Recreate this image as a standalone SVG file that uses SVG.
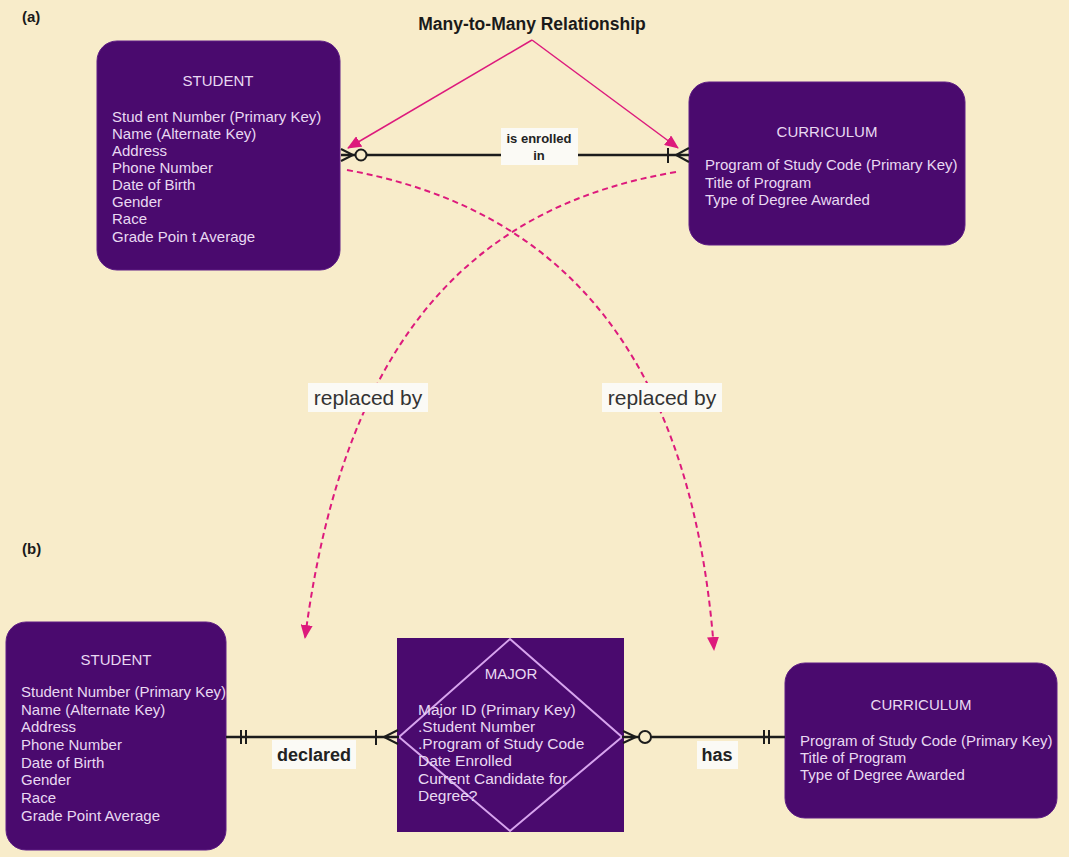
<svg xmlns="http://www.w3.org/2000/svg" width="1069" height="857" viewBox="0 0 1069 857">
<defs>
<style>
.bg{fill:#f8ecca}
.ent{fill:#4a0a6e;stroke:#5e1d85;stroke-width:1}
.title{font-family:"Liberation Sans",Arial,sans-serif;font-size:15px;fill:#e9d9f2;text-anchor:middle}
.attr{font-family:"Liberation Sans",Arial,sans-serif;font-size:15px;fill:#e9d9f2}
.mattr{font-family:"Liberation Sans",Arial,sans-serif;font-size:15.5px;fill:#e9d9f2}
.rel{stroke:#1c1c1c;stroke-width:2.5;fill:none}
.mark{stroke:#1c1c1c;stroke-width:2;fill:none}
.circ{stroke:#1c1c1c;stroke-width:2;fill:#f8ecca}
.lblbox{fill:#fbfaf5}
.lbl{font-family:"Liberation Sans",Arial,sans-serif;font-weight:bold;fill:#222;text-anchor:middle}
.rep{font-family:"Liberation Sans",Arial,sans-serif;font-size:21px;fill:#333;text-anchor:middle}
.pink{stroke:#dd1a7c;stroke-width:1.5;fill:none}
.dash{stroke:#dd1a7c;stroke-width:2;fill:none;stroke-dasharray:6 4}
.hdr{font-family:"Liberation Sans",Arial,sans-serif;font-weight:bold;fill:#1a1a1a}
</style>
<marker id="ah" viewBox="0 0 14 12" refX="13" refY="6" markerWidth="14" markerHeight="12" markerUnits="userSpaceOnUse" orient="auto">
<path d="M0,0 L14,6 L0,12 z" fill="#dd1a7c"/>
</marker>
<marker id="ah2" viewBox="0 0 14 12" refX="13" refY="6" markerWidth="14" markerHeight="12" markerUnits="userSpaceOnUse" orient="auto">
<path d="M0,0 L14,6 L0,12 z" fill="#dd1a7c"/>
</marker>
</defs>
<rect class="bg" x="0" y="0" width="1069" height="857"/>

<text class="hdr" x="22" y="22" font-size="15">(a)</text>
<text class="hdr" x="22" y="554" font-size="15">(b)</text>
<text class="hdr" x="532" y="30" font-size="17.5" text-anchor="middle">Many-to-Many Relationship</text>

<g id="student-a">
<rect class="ent" x="97" y="41" width="243" height="229" rx="20"/>
<text class="title" x="218" y="86">STUDENT</text>
<text class="attr" x="112" y="122">Stud ent Number (Primary Key)</text>
<text class="attr" x="112" y="139">Name (Alternate Key)</text>
<text class="attr" x="112" y="156">Address</text>
<text class="attr" x="112" y="173">Phone Number</text>
<text class="attr" x="112" y="190">Date of Birth</text>
<text class="attr" x="112" y="207">Gender</text>
<text class="attr" x="112" y="224">Race</text>
<text class="attr" x="112" y="242">Grade Poin t Average</text>
</g>

<g id="curriculum-a">
<rect class="ent" x="689" y="82" width="276" height="163" rx="20"/>
<text class="title" x="827" y="137">CURRICULUM</text>
<text class="attr" x="705" y="170">Program of Study Code (Primary Key)</text>
<text class="attr" x="705" y="188">Title of Program</text>
<text class="attr" x="705" y="205">Type of Degree Awarded</text>
</g>

<g id="student-b">
<rect class="ent" x="6" y="622" width="220" height="228" rx="20"/>
<text class="title" x="116" y="665">STUDENT</text>
<text class="attr" x="21" y="697">Student Number (Primary Key)</text>
<text class="attr" x="21" y="715">Name (Alternate Key)</text>
<text class="attr" x="21" y="732">Address</text>
<text class="attr" x="21" y="750">Phone Number</text>
<text class="attr" x="21" y="768">Date of Birth</text>
<text class="attr" x="21" y="785">Gender</text>
<text class="attr" x="21" y="803">Race</text>
<text class="attr" x="21" y="821">Grade Point Average</text>
</g>

<g id="major">
<rect x="397" y="638" width="227" height="194" fill="#4a0a6e"/>
<path d="M510,639 L622,737 L510,831 L399,737 Z" fill="none" stroke="#d7a4ee" stroke-width="2"/>
<text class="title" x="511" y="679">MAJOR</text>
<text class="mattr" x="418" y="715">Major ID (Primary Key)</text>
<text class="mattr" x="418" y="732">.Student Number</text>
<text class="mattr" x="418" y="749">.Program of Study Code</text>
<text class="mattr" x="418" y="766">Date Enrolled</text>
<text class="mattr" x="418" y="784">Current Candidate for</text>
<text class="mattr" x="418" y="801">Degree?</text>
</g>

<g id="curriculum-b">
<rect class="ent" x="785" y="663" width="272" height="155" rx="20"/>
<text class="title" x="921" y="710">CURRICULUM</text>
<text class="attr" x="800" y="746">Program of Study Code (Primary Key)</text>
<text class="attr" x="800" y="763">Title of Program</text>
<text class="attr" x="800" y="780">Type of Degree Awarded</text>
</g>

<g id="connectors">
<!-- top: is enrolled in -->
<line class="rel" x1="341" y1="155" x2="689" y2="155"/>
<path class="mark" d="M341,149 L353,155 L341,161"/>
<circle class="circ" cx="361" cy="155" r="5.5"/>
<line class="mark" x1="668" y1="148" x2="668" y2="163"/>
<path class="mark" d="M689,148 L676,155 L689,162"/>
<rect class="lblbox" x="501" y="128" width="77" height="37"/>
<text class="lbl" x="539" y="143" font-size="13">is enrolled</text>
<text class="lbl" x="539" y="160" font-size="13">in</text>

<!-- bottom: declared -->
<line class="rel" x1="226" y1="737" x2="399" y2="737"/>
<line class="mark" x1="241" y1="730" x2="241" y2="744"/>
<line class="mark" x1="246" y1="730" x2="246" y2="744"/>
<line class="mark" x1="376" y1="730" x2="376" y2="745"/>
<path class="mark" d="M398,730 L384,737 L398,744"/>
<rect class="lblbox" x="272" y="740" width="84" height="29"/>
<text class="lbl" x="314" y="761" font-size="18">declared</text>

<!-- bottom: has -->
<line class="rel" x1="622" y1="737" x2="785" y2="737"/>
<path class="mark" d="M623,731 L636,737 L623,743"/>
<circle class="circ" cx="645" cy="737" r="6"/>
<line class="mark" x1="764" y1="730" x2="764" y2="744"/>
<line class="mark" x1="769" y1="730" x2="769" y2="744"/>
<rect class="lblbox" x="697" y="741" width="41" height="28"/>
<text class="lbl" x="717" y="761" font-size="18">has</text>

<!-- many-to-many pointers -->
<line class="pink" x1="532" y1="40" x2="348" y2="148" marker-end="url(#ah)"/>
<line class="pink" x1="532" y1="40" x2="678" y2="148" marker-end="url(#ah)"/>

<!-- replaced by curves -->
<path class="dash" d="M347,170 C540,205 690,330 714,650" marker-end="url(#ah2)"/>
<path class="dash" d="M676,172 C480,205 345,330 305,638" marker-end="url(#ah2)"/>
<rect class="lblbox" x="308" y="383" width="120" height="29"/>
<text class="rep" x="368" y="405">replaced by</text>
<rect class="lblbox" x="602" y="383" width="120" height="29"/>
<text class="rep" x="662" y="405">replaced by</text>
</g>
</svg>
